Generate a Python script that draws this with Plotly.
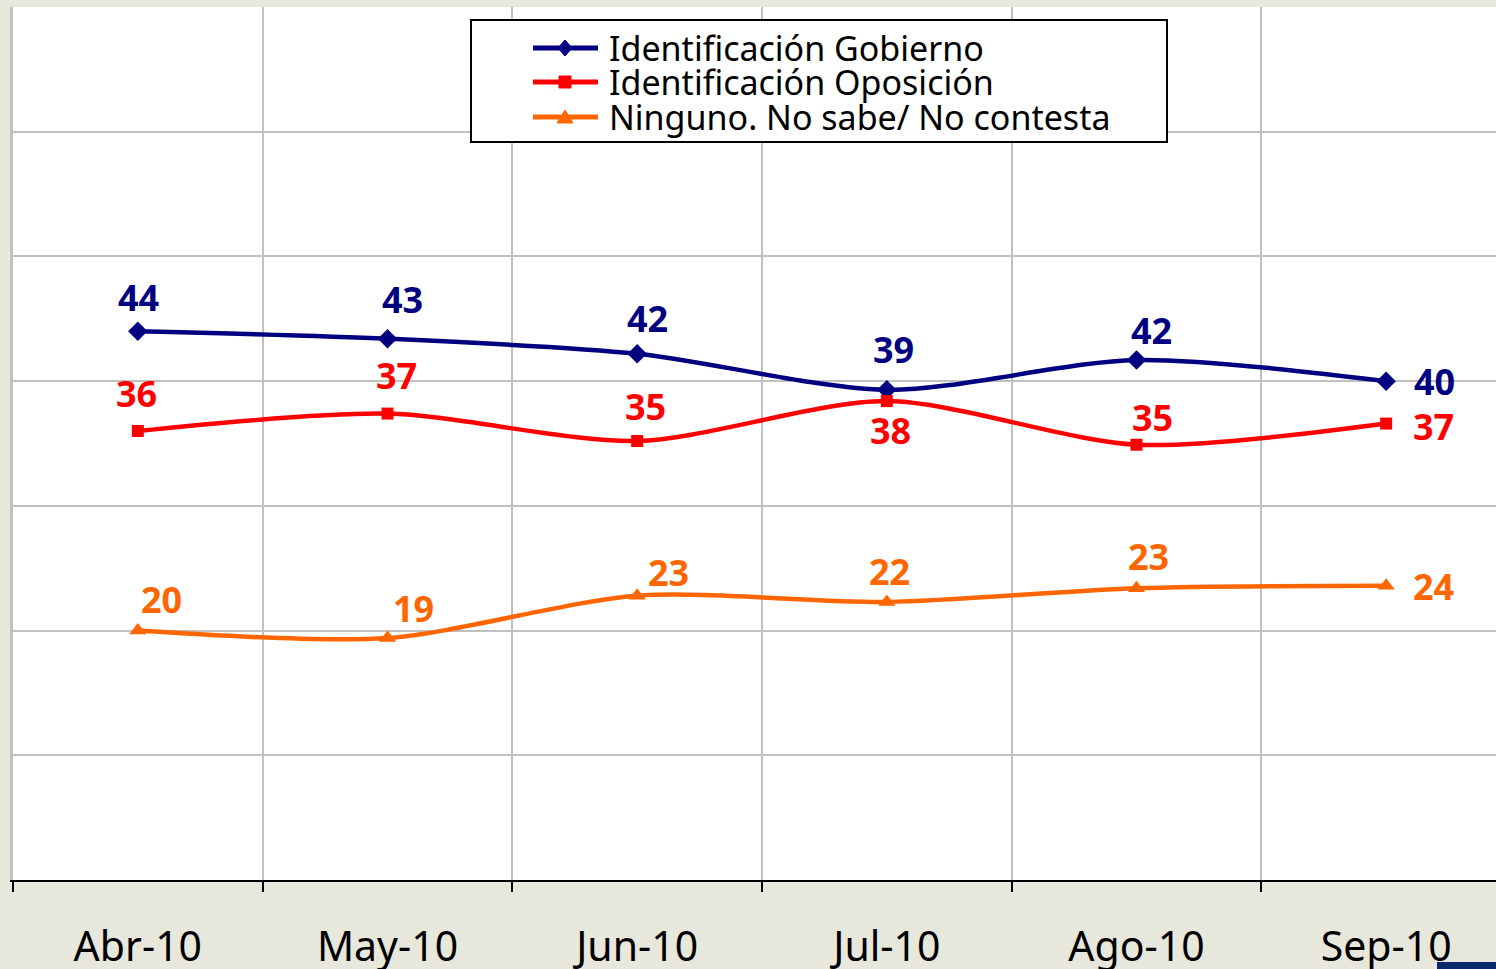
import plotly.graph_objects as go

# ---- data ----
months = ["Abr-10", "May-10", "Jun-10", "Jul-10", "Ago-10", "Sep-10"]
gobierno = [44.0, 43.4, 42.2, 39.3, 41.7, 40.0]
oposicion = [36.0, 37.4, 35.2, 38.4, 34.9, 36.6]
ninguno = [20.0, 19.4, 22.8, 22.3, 23.4, 23.6]
series_names = ["Identificación Gobierno", "Identificación Oposición", "Ninguno. No sabe/ No contesta"]

# ---- styles ----
colors = ["#000080", "#FF0000", "#FF6600"]
symbols = ["diamond", "square", "triangle-up"]
marker_sizes = [15, 12, 15]
# label offsets (px) relative to each point: (dx, dy up)
label_offsets = [
    [(1, 34), (15, 39), (10, 35), (7, 40), (15, 29), (48, 0)],
    [(-1, 38), (9, 38), (8, 35), (4, -29), (16, 27), (47, -3)],
    [(24, 31), (26, 30), (31, 23), (3, 30), (12, 32), (47, -1)],
]
# legend glyph paths (pixel units, relative to anchor)
legend_paths = [
    "M0,8 L7,0 L0,-8 L-7,0 Z",
    "M-6,-6 L6,-6 L6,6 L-6,6 Z",
    "M-8,-6 L8,-6 L0,7 Z",
]

fig = go.Figure()
all_series = [gobierno, oposicion, ninguno]
for name, vals, col, sym, ms in zip(series_names, all_series, colors, symbols, marker_sizes):
    fig.add_trace(go.Scatter(
        x=months, y=vals, name=name, mode="lines+markers",
        line=dict(color=col, width=4.5, shape="spline", smoothing=0.8),
        marker=dict(symbol=sym, size=ms, color=col),
        cliponaxis=False, showlegend=False,
    ))

annotations = []
for vals, col, offs in zip(all_series, colors, label_offsets):
    for m, v, (dx, dy) in zip(months, vals, offs):
        annotations.append(dict(
            x=m, y=v, xref="x", yref="y", text=f"{v:.0f}", showarrow=False,
            xshift=dx, yshift=dy, xanchor="center", yanchor="middle",
            font=dict(family="Noto Sans", size=36, color=col, weight="bold"),
        ))

# ---- manual legend box ----
def px_x(p):
    return (p - 13) / 1483.0

def px_y(p):
    return (880 - p) / 873.0

shapes = [dict(type="rect", xref="paper", yref="paper",
               x0=px_x(471), x1=px_x(1167), y0=px_y(142), y1=px_y(20),
               fillcolor="white", line=dict(color="black", width=2), layer="above")]
row_y = [48, 82, 117]
for name, col, path, ry in zip(series_names, colors, legend_paths, row_y):
    shapes.append(dict(type="line", xref="paper", yref="paper",
                       x0=px_x(533), x1=px_x(598), y0=px_y(ry), y1=px_y(ry),
                       line=dict(color=col, width=5), layer="above"))
    shapes.append(dict(type="path", xref="paper", yref="paper",
                       xsizemode="pixel", ysizemode="pixel",
                       xanchor=px_x(565), yanchor=px_y(ry), path=path,
                       fillcolor=col, line=dict(color=col, width=1), layer="above"))
    annotations.append(dict(
        x=px_x(607), y=px_y(ry), xref="paper", yref="paper", text=name,
        showarrow=False, xanchor="left", yanchor="middle",
        font=dict(family="Noto Sans", size=34, color="black"),
    ))

shapes.append(dict(type="rect", xref="paper", yref="paper",
                   x0=px_x(1437), x1=px_x(1500), y0=px_y(975), y1=px_y(962),
                   fillcolor="#0B2A6E", line=dict(width=0)))

fig.update_layout(
    width=1496, height=969,
    margin=dict(l=13, r=0, t=7, b=89, pad=0, autoexpand=False),
    paper_bgcolor="#E8E7DC",
    plot_bgcolor="white",
    annotations=annotations,
    shapes=shapes,
    showlegend=False,
)

fig.update_xaxes(
    type="category", categoryorder="array", categoryarray=months,
    range=[-0.5, 5.44], tickson="boundaries", automargin=False,
    showgrid=True, gridcolor="#C0C0C0", gridwidth=2,
    showline=True, linecolor="black", linewidth=2,
    ticks="outside", ticklen=10, tickwidth=2, tickcolor="black",
    ticklabelstandoff=30,
    tickfont=dict(family="Noto Sans", size=41, color="black"),
)
fig.update_yaxes(
    range=[0, 70], dtick=10, showticklabels=False, automargin=False,
    showgrid=True, gridcolor="#C0C0C0", gridwidth=2,
    showline=True, linecolor="#C0C0C0", linewidth=3,
    zeroline=False,
)

fig.write_html("out.html", config={"displayModeBar": False},
               post_script="document.body.style.margin='0';document.body.style.overflow='hidden';")
